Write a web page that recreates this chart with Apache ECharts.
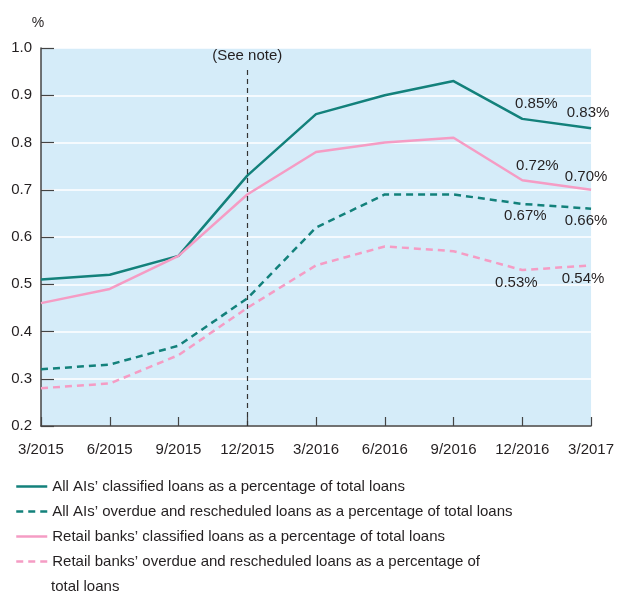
<!DOCTYPE html>
<html>
<head>
<meta charset="utf-8">
<script src="https://cdn.jsdelivr.net/npm/echarts@6/dist/echarts.min.js"></script>
<style>
  html, body { margin: 0; padding: 0; background: #fff; }
  #chart { width: 617px; height: 592px; }
</style>
</head>
<body>
<div id="chart"></div>
<script>
  // categories (quarter-end)
  const categories = ['3/2015', '6/2015', '9/2015', '12/2015', '3/2016', '6/2016', '9/2016', '12/2016', '3/2017'];
  const yTicks = [0.2, 0.3, 0.4, 0.5, 0.6, 0.7, 0.8, 0.9, 1.0];

  // values (%)
  const allClassified = [0.51, 0.52, 0.56, 0.73, 0.86, 0.90, 0.93, 0.85, 0.83];
  const allOverdue = [0.32, 0.33, 0.37, 0.47, 0.62, 0.69, 0.69, 0.67, 0.66];
  const retailClassified = [0.46, 0.49, 0.56, 0.69, 0.78, 0.80, 0.81, 0.72, 0.70];
  const retailOverdue = [0.28, 0.29, 0.35, 0.45, 0.54, 0.58, 0.57, 0.53, 0.54];

  const names = [
    'All AIs\u2019 classified loans as a percentage of total loans',
    'All AIs\u2019 overdue and rescheduled loans as a percentage of total loans',
    'Retail banks\u2019 classified loans as a percentage of total loans',
    'Retail banks\u2019 overdue and rescheduled loans as a percentage of total loans'
  ];

  const TEAL = '#13817b';
  const PINK = '#f59cc4';
  const TEXT = '#231f20';
  const FONT = 'Liberation Sans';

  // label the last two points; offsets are label placement only
  function endLabels(values, offsets) {
    const n = values.length;
    return {
      symbol: 'circle',
      symbolSize: 0,
      silent: true,
      label: { show: true, position: 'inside', color: TEXT, fontSize: 15, fontFamily: FONT },
      data: [n - 2, n - 1].map((idx, k) => ({
        coord: [categories[idx], values[idx]],
        value: values[idx].toFixed(2) + '%',
        label: { offset: offsets[k], formatter: '{c}' }
      }))
    };
  }

  function lineSeries(name, data, color, dashed, offsets) {
    return {
      name: name,
      type: 'line',
      data: data,
      symbol: 'none',
      lineStyle: { color: color, width: 2.5, type: dashed ? [7, 5] : 'solid' },
      itemStyle: { color: color },
      markPoint: endLabels(data, offsets)
    };
  }

  const chart = echarts.init(document.getElementById('chart'));
  const series = [
    lineSeries(names[0], allClassified, TEAL, false, [[14, -15], [-3, -15]]),
    lineSeries(names[1], allOverdue, TEAL, true, [[3, 12], [-5, 12]]),
    lineSeries(names[2], retailClassified, PINK, false, [[15, -14], [-5, -13]]),
    lineSeries(names[3], retailOverdue, PINK, true, [[-6, 13], [-8, 14]])
  ];
  // break-in-series marker
  series[0].markLine = {
    silent: true,
    symbol: 'none',
    lineStyle: { color: '#333', width: 1.2, type: [5, 4] },
    label: { show: true, position: 'end', formatter: '(See note)', color: TEXT, fontSize: 15, fontFamily: FONT, distance: 4 },
    data: [[{ coord: ['12/2015', 0.2] }, { coord: ['12/2015', 0.96] }]]
  };

  chart.setOption({
    animation: false,
    textStyle: { fontFamily: FONT, color: TEXT },
    grid: {
      left: 41, right: 24, top: 48, bottom: 166,
      show: true, backgroundColor: '#d5ecf9', borderWidth: 0
    },
    legend: {
      orient: 'vertical',
      left: 15,
      top: 474,
      padding: 0,
      itemGap: 0,
      itemWidth: 31,
      itemHeight: 10,
      selectedMode: false,
      itemStyle: { opacity: 0 },
      lineStyle: { width: 2.5 },
      textStyle: { fontSize: 15, lineHeight: 25, color: TEXT, fontFamily: FONT },
      formatter: function (name) {
        return name === names[3] ? name.replace(' total loans', '') : name;
      },
      data: names
    },
    graphic: [{
      type: 'text',
      left: 51, top: 579,
      style: { text: 'total loans', fontSize: 15, fill: TEXT, fontFamily: FONT }
    }],
    xAxis: {
      type: 'category',
      data: categories,
      boundaryGap: false,
      axisLine: { lineStyle: { color: '#444', width: 1.5 } },
      axisTick: { inside: true, length: 9, interval: 0, lineStyle: { color: '#444', width: 1.2 } },
      axisLabel: { fontSize: 15, color: TEXT, margin: 16, interval: 0, fontFamily: FONT },
      splitLine: { show: false }
    },
    yAxis: {
      type: 'value',
      min: yTicks[0],
      max: yTicks[yTicks.length - 1],
      interval: 0.1,
      name: '%',
      nameGap: 18,
      nameTextStyle: { fontSize: 14, color: TEXT, align: 'center', padding: [0, 6, 0, 0] },
      axisLine: { show: true, lineStyle: { color: '#444', width: 1.5 } },
      axisTick: { show: true, inside: true, length: 13, lineStyle: { color: '#444', width: 1.2 } },
      axisLabel: { fontSize: 15, color: TEXT, margin: 9, formatter: v => v.toFixed(1) },
      splitLine: { lineStyle: { color: '#ffffff', width: 1.5 } }
    },
    series: series
  });
</script>
</body>
</html>
